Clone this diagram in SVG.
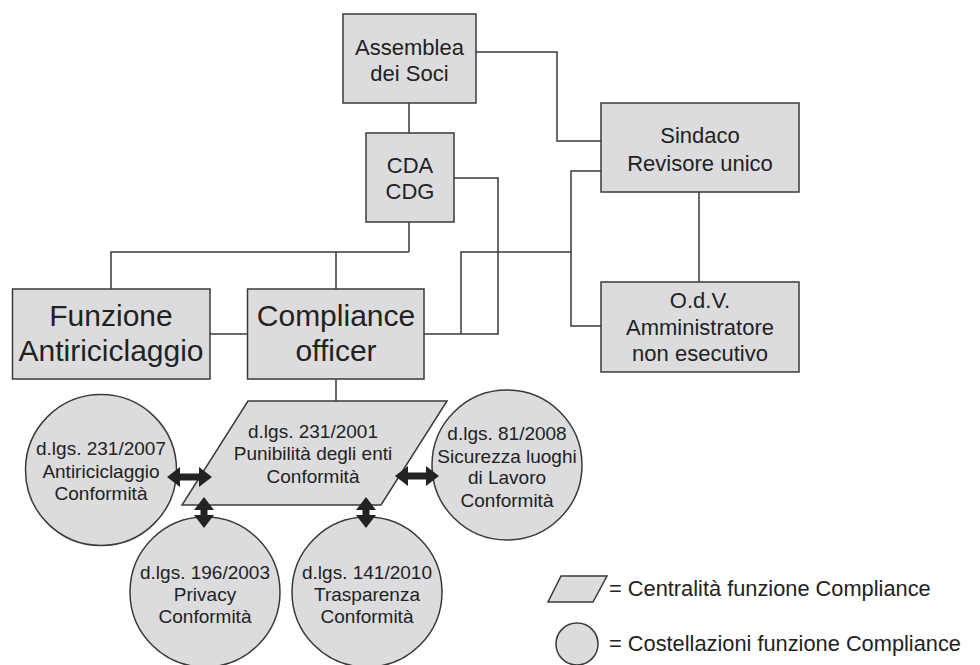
<svg xmlns="http://www.w3.org/2000/svg" width="980" height="665" viewBox="0 0 980 665">
<style>
.box{fill:#dcdcde;stroke:#3a3a3a;stroke-width:1.5}
.ln{fill:none;stroke:#3a3a3a;stroke-width:1.5}
.t{font-family:"Liberation Sans",Arial,Helvetica,sans-serif;fill:#222;text-anchor:middle}
.t22{font-size:22px}
.t30{font-size:30px}
.t19{font-size:19px}
.leg{font-family:"Liberation Sans",Arial,Helvetica,sans-serif;fill:#222;font-size:21.8px}
.arr{stroke:#222;stroke-width:7;fill:none;marker-start:url(#ah);marker-end:url(#ah)}
</style>
<defs>
<marker id="ah" viewBox="0 0 13 20" refX="5" refY="10" markerWidth="13" markerHeight="20" markerUnits="userSpaceOnUse" orient="auto-start-reverse">
<path d="M0,0 L13,10 L0,20 z" fill="#222"/>
</marker>
</defs>
<rect width="980" height="665" fill="#fff"/>
<g id="connectors">
<polyline class="ln" points="409,103 409,133"/>
<polyline class="ln" points="476,52 557,52 557,141 601,141"/>
<polyline class="ln" points="409,222 409,252"/>
<polyline class="ln" points="111,289 111,252 409,252"/>
<polyline class="ln" points="336,252 336,289"/>
<polyline class="ln" points="454,178 498,178 498,334 424,334"/>
<polyline class="ln" points="210,334 247.5,334"/>
<polyline class="ln" points="461,334 461,252 571,252"/>
<polyline class="ln" points="601,171 571,171 571,326 601,326"/>
<polyline class="ln" points="699,192 699,282"/>
<polyline class="ln" points="336,379 336,401"/>
</g>
<g id="assemblea">
<rect class="box" x="343" y="14" width="133" height="89"/>
<text class="t t22" x="409.5" y="55">Assemblea</text>
<text class="t t22" x="409.5" y="81">dei Soci</text>
</g>
<g id="cda">
<rect class="box" x="366" y="133" width="88" height="89"/>
<text class="t t22" x="410" y="173">CDA</text>
<text class="t t22" x="410" y="199">CDG</text>
</g>
<g id="sindaco">
<rect class="box" x="601" y="103" width="198" height="89"/>
<text class="t t22" x="700" y="143">Sindaco</text>
<text class="t t22" x="700" y="171">Revisore unico</text>
</g>
<g id="odv">
<rect class="box" x="601" y="282" width="198" height="90"/>
<text class="t t22" x="700" y="308">O.d.V.</text>
<text class="t t22" x="700" y="335">Amministratore</text>
<text class="t t22" x="700" y="361">non esecutivo</text>
</g>
<g id="funzione">
<rect class="box" x="12.5" y="289" width="197.5" height="90"/>
<text class="t t30" x="111" y="326">Funzione</text>
<text class="t t30" x="111" y="361">Antiriciclaggio</text>
</g>
<g id="compliance">
<rect class="box" x="247.5" y="289" width="176.5" height="90"/>
<text class="t t30" x="336" y="326">Compliance</text>
<text class="t t30" x="336" y="361">officer</text>
</g>
<g id="dlgs231-2001">
<polygon class="box" points="248,401 447,401 381,505 182,505"/>
<text class="t t19" x="313" y="438">d.lgs. 231/2001</text>
<text class="t t19" x="313" y="460">Punibilità degli enti</text>
<text class="t t19" x="313" y="483">Conformità</text>
</g>
<g id="dlgs231-2007">
<circle class="box" cx="101" cy="470" r="75.5"/>
<text class="t t19" x="101" y="455">d.lgs. 231/2007</text>
<text class="t t19" x="101" y="478">Antiriciclaggio</text>
<text class="t t19" x="101" y="500">Conformità</text>
</g>
<g id="dlgs81-2008">
<circle class="box" cx="507" cy="465" r="75"/>
<text class="t t19" x="507" y="440">d.lgs. 81/2008</text>
<text class="t t19" x="507" y="463">Sicurezza luoghi</text>
<text class="t t19" x="507" y="484">di Lavoro</text>
<text class="t t19" x="507" y="507">Conformità</text>
</g>
<g id="dlgs196-2003">
<circle class="box" cx="205" cy="592" r="75"/>
<text class="t t19" x="205" y="579">d.lgs. 196/2003</text>
<text class="t t19" x="205" y="601">Privacy</text>
<text class="t t19" x="205" y="623">Conformità</text>
</g>
<g id="dlgs141-2010">
<circle class="box" cx="367" cy="592" r="75"/>
<text class="t t19" x="367" y="579">d.lgs. 141/2010</text>
<text class="t t19" x="367" y="601">Trasparenza</text>
<text class="t t19" x="367" y="623">Conformità</text>
</g>
<g id="arrows">
<line class="arr" x1="175" y1="477" x2="204" y2="477"/>
<line class="arr" x1="403" y1="476" x2="431" y2="476"/>
<line class="arr" x1="204" y1="505" x2="204" y2="520"/>
<line class="arr" x1="366" y1="505" x2="366" y2="520"/>
</g>
<g id="legend">
<polygon class="box" points="561,576 607,576 593,602 548,602"/>
<text class="leg" x="609" y="596">= Centralità funzione Compliance</text>
<circle class="box" cx="577" cy="644" r="21"/>
<text class="leg" x="609" y="651">= Costellazioni funzione Compliance</text>
</g>
</svg>
